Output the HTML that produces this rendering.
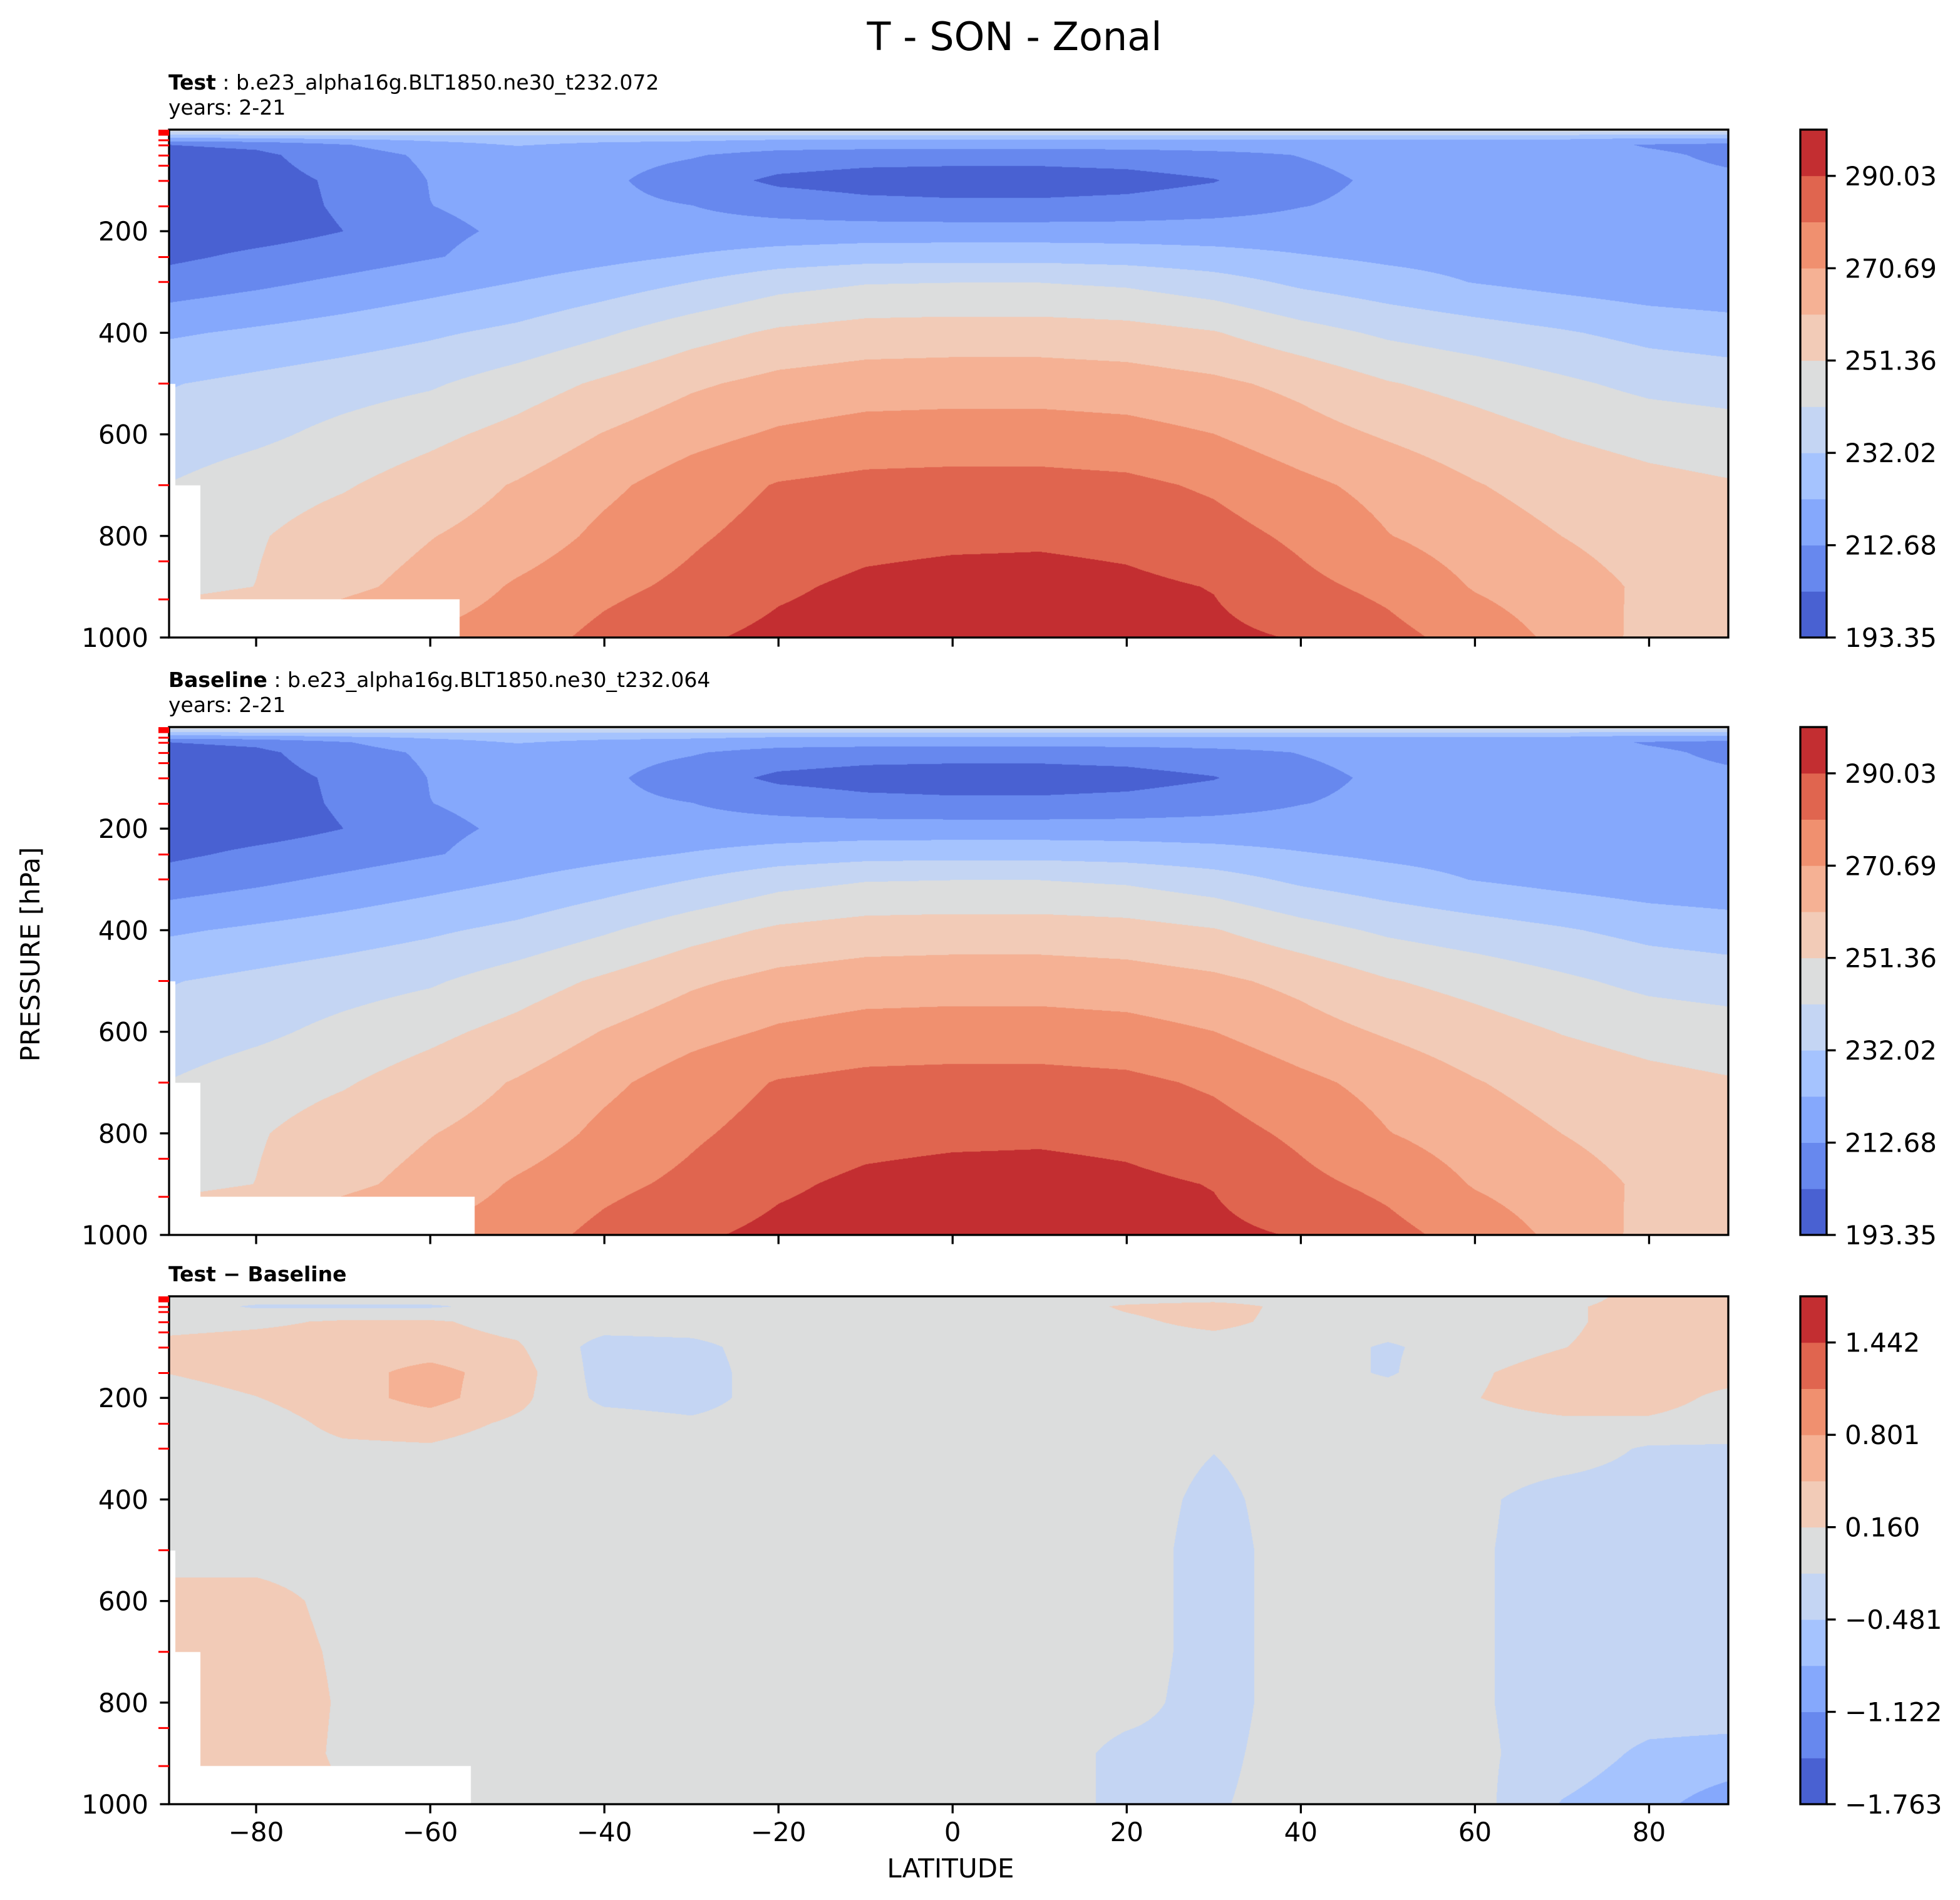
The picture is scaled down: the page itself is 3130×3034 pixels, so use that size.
<!DOCTYPE html>
<html><head><meta charset="utf-8">
<style>
html,body{margin:0;padding:0;background:#fff;}
#fig{position:relative;width:3130px;height:3034px;overflow:hidden;background:#fff;font-family:"DejaVu Sans","Liberation Sans",sans-serif;}
canvas{position:absolute;}
#ov{position:absolute;left:0;top:0;}
</style></head>
<body>
<div id="fig">
<canvas id="c0" width="2490" height="811" style="left:270px;top:207px"></canvas>
<canvas id="c1" width="2490" height="811" style="left:270px;top:1161px"></canvas>
<canvas id="c2" width="2490" height="811" style="left:270px;top:2070px"></canvas>
<svg id="ov" width="3130" height="3034" font-family="DejaVu Sans, Liberation Sans, sans-serif">
  <text x="1620" y="80" font-size="62" text-anchor="middle">T - SON - Zonal</text>
  <text x="269" y="143" font-size="33"><tspan font-weight="bold">Test</tspan> : b.e23_alpha16g.BLT1850.ne30_t232.072</text>
  <text x="269" y="183" font-size="33">years: 2-21</text>
  <text x="269" y="1097" font-size="33"><tspan font-weight="bold">Baseline</tspan> : b.e23_alpha16g.BLT1850.ne30_t232.064</text>
  <text x="269" y="1137" font-size="33">years: 2-21</text>
  <text x="269" y="2046" font-size="33" font-weight="bold">Test − Baseline</text>
  <text x="1518" y="2998" font-size="42" text-anchor="middle">LATITUDE</text>
  <text x="0" y="0" font-size="42" text-anchor="middle" transform="translate(63,1524) rotate(-90)">PRESSURE [hPa]</text>
</svg>
</div>
<script>
// ---------- data ----------
const lats = [-90,-80,-70,-60,-50,-40,-30,-20,-10,0,10,20,30,40,50,60,70,80,90];
const presT = [2,8,15,30,50,100,150,200,250,300,400,500,600,700,800,900,1000];
const testT = [
[244,244,244,244,244,244,244,244,244,244,244,244,244,244,244,244,244,244,244],
[236,236,236,236,236,236,236,236,236,236,236,236,236,236,236,236,236,236,236],
[224,225,226,226,227,227,226,225,225,225,225,225,225,225,225,225,225,224,224],
[203,205,212,219,223,220,219,217,217,217,217,217,217,217,217,217,216,212,210],
[199,201,208,214.5,216.5,216,213.5,209,207,206.5,206.5,207.5,210,213,216,217,216,214,211],
[197,199.5,204.5,213,216,214.5,208,201,199,198.5,198.5,199.5,202.5,210,214.5,216,216,215,214],
[197,199.5,204,212.6,215,215,212.8,209,206,205,205,206,208.5,212.4,215,216,216,215.5,215],
[197,199,203,211,214,215.5,216,216.5,217,217,217,217,217,217,217,217,217,216.5,216],
[201,205,208,212,216,219.5,223,226.5,228.5,229,229,228,226,223,220.5,219,218,217,216],
[207,210.5,214.5,218.5,222.4,227,232,238,241,241.5,241.5,240,236,230,226,222,219,216.5,215],
[221,224,227,230.5,234.5,240.5,247.5,253,255.5,256,256,255,252,245.5,240,236.5,233,229,227],
[231.5,234.5,237.5,240.5,246.5,253,259.5,264,266,266.5,266.5,265.5,263,258.5,252,248,243.5,239,237],
[236,239.5,244.5,249,254.5,261.5,267.5,272,274.5,275,275,274,270.8,265,260,255.5,251,248,246],
[242,247,250.5,256,261.8,268.5,275.5,281,283,283.5,283.5,282.5,279,273,267.5,261.6,257,254,252],
[246,250.5,256,260.7,265,273,279,284,287,288,288.5,287.5,284,278.5,271,266,261,257,256],
[248,251.5,259,264,272,278,282.5,288.5,292,293.5,293.5,292,289.7,282.8,278,270,265,259.5,256],
[262,265,268,272,276.1,283,288.5,292.5,294.5,295.5,295.5,294,292,289.5,283.4,276.6,268.3,258,255]
];
const baseT = [
[244,244,244,244,244,244,244,244,244,244,244,244,244,244,244,244,244,244,244],
[236,236,236,236,236,236,236,236,236,236,236,236,236,236,236,236,236,236,236],
[224,225,226,226,227,227,226,225,225,225,225,225,225,225,225,225,225,224,224],
[203,205,212,219,223,220,219,217,217,217,217,217,217,217,217,217,216,212,210],
[199,201,208,214.5,216.5,216,213.5,209,207,206.5,206.5,207.5,210,213,216,217,216,214,211],
[197,199.5,204.5,213,216,214.5,208,201,199,198.5,198.5,199.5,202.5,210,214.5,216,216,215,214],
[197,199.5,204,212.6,215,215,212.8,209,206,205,205,206,208.5,212.4,215,216,216,215.5,215],
[197,199,203,211,214,215.5,216,216.5,217,217,217,217,217,217,217,217,217,216.5,216],
[201,205,208,212,216,219.5,223,226.5,228.5,229,229,228,226,223,220.5,219,218,217,216],
[207,210.5,214.5,218.5,222.4,227,232,238,241,241.5,241.5,240,236,230,226,222,219,216.5,215],
[221,224,227,230.5,234.5,240.5,247.5,253,255.5,256,256,255,252,245.5,240,236.5,233,229,227],
[231.5,234.5,237.5,240.5,246.5,253,259.5,264,266,266.5,266.5,265.5,263,258.5,252,248,243.5,239,237],
[236,239.5,244.5,249,254.5,261.5,267.5,272,274.5,275,275,274,270.8,265,260,255.5,251,248,246],
[242,247,250.5,256,261.8,268.5,275.5,281,283,283.5,283.5,282.5,279,273,267.5,261.6,257,254,252],
[246,250.5,256,260.7,265,273,279,284,287,288,288.5,287.5,284,278.5,271,266,261,257,256],
[248,251.5,259,264,272,278,282.5,288.5,292,293.5,293.5,292,289.7,282.8,278,270,265,259.5,256],
[262,265,268,272,276.1,283,288.5,292.5,294.5,295.5,295.5,294,292,289.5,283.4,276.6,268.3,258,255]
];
const presD = [2,20,50,100,150,200,250,300,400,500,600,700,800,900,1000];
const diffT = [
[0,0,0,0,0,0,0,0,0,0,0,0,0,0,0,0,0,0.3,0.3],
[0,-0.2,-0.2,-0.2,-0.05,0,0,0,0,0,0,0.2,0.3,0.05,0,0,0.1,0.3,0.3],
[0.05,0.1,0.2,0.2,0.05,0,0,0,0,0,0,0.1,0.25,0.05,0,0,0.1,0.3,0.3],
[0.25,0.3,0.3,0.3,0.2,-0.3,-0.25,0,0,0,0,0,0,0,-0.2,0,0.15,0.3,0.3],
[0.17,0.3,0.35,0.6,0.3,-0.3,-0.3,0,0,0,0,0,0,0,-0.2,0.12,0.3,0.3,0.3],
[0,0.15,0.35,0.6,0.25,-0.25,-0.3,0,0,0,0,0,0,0,0,0.15,0.3,0.3,0.05],
[0,0,0.25,0.3,0.1,0,-0.1,0,0,0,0,0,0,0,0,0.05,0.1,0.1,0],
[0,0,0.1,0.12,0,0,0,0,0,0,0,0,-0.15,0,0,0,0,-0.2,-0.2],
[0,0,0,0,0,0,0,0,0,0,0,0,-0.25,0,0,-0.1,-0.3,-0.3,-0.3],
[0,0,0,0,0,0,0,0,0,0,0,0,-0.3,0,0,-0.12,-0.3,-0.3,-0.3],
[0.3,0.3,0.05,0,0,0,0,0,0,0,0,0,-0.3,0,0,-0.12,-0.3,-0.3,-0.3],
[0.3,0.35,0.1,0,0,0,0,0,0,0,0,0,-0.3,0,0,-0.12,-0.3,-0.3,-0.3],
[0.3,0.4,0.12,0,0,0,0,0,0,0,0,-0.05,-0.3,0,0,-0.12,-0.3,-0.3,-0.3],
[0.3,0.4,0.1,0,0,0,0,0,0,0,0,-0.25,-0.25,0,0,-0.1,-0.3,-0.55,-0.6],
[0.3,0.3,0.2,0.1,0.1,0,0,0,0,0,0,-0.25,-0.2,0,0,-0.05,-0.5,-0.7,-1.0]
];
const maskLat = [-89.3,-86.4];
const maskP = [500,700,925];
const boxLatT = -56.6, boxLatB = -54.9, boxLatD = -55.3;
const tMin = 193.35, tStep = 9.67;
const dMin = -1.763, dStep = 0.3205;
const tTicks = [193.35,212.68,232.02,251.36,270.69,290.03];
const tTickLabels = ["193.35","212.68","232.02","251.36","270.69","290.03"];
const dTicks = [-1.763,-1.122,-0.481,0.160,0.801,1.442];
const dTickLabels = ["−1.763","−1.122","−0.481","0.160","0.801","1.442"];
const xTicks = [-80,-60,-40,-20,0,20,40,60,80];
const xTickLabels = ["−80","−60","−40","−20","0","20","40","60","80"];
const yTicks = [200,400,600,800,1000];
const yTickLabels = ["200","400","600","800","1000"];
const modelLevels = [2,3,5,7,10,21,31,51,71,101,151,251,300,500,700,850,925];

// ---------- geometry ----------
const LAT0 = -90, LAT1 = 89.1;
const X0 = 270, X1 = 2760, PH = 811, W = X1 - X0;
const tops = [207, 1161, 2070];
const COLORS = ['#4961d2','#6788ee','#85a8fc','#a5c3fe','#c4d5f3','#dcdddd','#f2cbb7','#f5b194','#f0906f','#e0654f','#c32e31'];
function xOf(lat){ return X0 + (lat - LAT0) / (LAT1 - LAT0) * W; }
function yOf(top, p){ return top + p / 1000 * PH; }
function hex2rgb(h){ return [parseInt(h.substr(1,2),16),parseInt(h.substr(3,2),16),parseInt(h.substr(5,2),16)]; }
const RGB = COLORS.map(hex2rgb);

function render(id, pres, vals, vmin, step, boxLat){
  const c = document.getElementById(id);
  const ctx = c.getContext('2d');
  const img = ctx.createImageData(W, PH);
  const d = img.data;
  const colLi = [], colLf = [], colLat = [];
  for (let x = 0; x < W; x++){
    const lat = LAT0 + (x + 0.5) / W * (LAT1 - LAT0);
    let li = Math.min(Math.floor((lat + 90) / 10), lats.length - 2);
    colLi.push(li); colLf.push((lat - lats[li]) / (lats[li+1] - lats[li])); colLat.push(lat);
  }
  for (let y = 0; y < PH; y++){
    const p = (y + 0.5) / PH * 1000;
    let pi = 0;
    while (pi < pres.length - 2 && p > pres[pi+1]) pi++;
    let pf = (p - pres[pi]) / (pres[pi+1] - pres[pi]);
    pf = Math.max(0, Math.min(1, pf));
    const r0 = vals[pi], r1 = vals[pi+1];
    for (let x = 0; x < W; x++){
      const lat = colLat[x];
      const o = (y * W + x) * 4;
      let masked = (p > maskP[2] && lat < boxLat) || (p > maskP[1] && lat < maskLat[1]) || (p > maskP[0] && lat < maskLat[0]);
      if (masked){ d[o]=255; d[o+1]=255; d[o+2]=255; d[o+3]=255; continue; }
      const li = colLi[x], lf = colLf[x];
      const a = r0[li] + (r0[li+1] - r0[li]) * lf;
      const b = r1[li] + (r1[li+1] - r1[li]) * lf;
      const v = a + (b - a) * pf;
      let k = Math.floor((v - vmin) / step);
      if (k < 0) k = 0; if (k > 10) k = 10;
      const col = RGB[k];
      d[o]=col[0]; d[o+1]=col[1]; d[o+2]=col[2]; d[o+3]=255;
    }
  }
  ctx.putImageData(img, 0, 0);
}
render('c0', presT, testT, tMin, tStep, boxLatT);
render('c1', presT, baseT, tMin, tStep, boxLatB);
render('c2', presD, diffT, dMin, dStep, boxLatD);

// ---------- overlay ----------
const NS = 'http://www.w3.org/2000/svg';
const ov = document.getElementById('ov');
function mk(tag, attrs){ const e = document.createElementNS(NS, tag); for (const k in attrs) e.setAttribute(k, attrs[k]); ov.appendChild(e); return e; }
const LW = 3.3, TL = 14.6;
const cbX0 = 2875, cbX1 = 2917;

tops.forEach((top, pi) => {
  const fr = mk('rect', {x: X0, y: top, width: W, height: PH, fill: 'none', stroke: '#000', 'stroke-width': LW});
  
  
  modelLevels.forEach(lv => {
    const t = mk('line', {x1: X0 - 17, x2: X0, y1: yOf(top, lv), y2: yOf(top, lv), stroke: '#ff0000', 'stroke-width': 3});
    
    
  });
  yTicks.forEach((pv, i) => {
    const yy = yOf(top, pv);
    const t = mk('line', {x1: X0 - TL, x2: X0, y1: yy, y2: yy, stroke: '#000', 'stroke-width': LW});
    
    
    const lb = mk('text', {x: 237, y: yy + 15, 'font-size': 42, 'text-anchor': 'end'});
    lb.textContent = yTickLabels[i];
    
    
  });
  xTicks.forEach((lv, i) => {
    const xx = xOf(lv);
    const t = mk('line', {x1: xx, x2: xx, y1: top + PH, y2: top + PH + TL, stroke: '#000', 'stroke-width': LW});
    
    
    if (pi === 2){
      const lb = mk('text', {x: xx, y: 2940, 'font-size': 42, 'text-anchor': 'middle'});
      lb.textContent = xTickLabels[i];
      
      
    }
  });
  const isDiff = pi === 2;
  const vmin = isDiff ? dMin : tMin, step = isDiff ? dStep : tStep;
  const ticks = isDiff ? dTicks : tTicks, labels = isDiff ? dTickLabels : tTickLabels;
  for (let k = 0; k < 11; k++){
    const r = mk('rect', {x: cbX0, y: top + PH - (k + 1) * PH / 11, width: cbX1 - cbX0, height: PH / 11 + 0.5, fill: COLORS[k]});
    
    
  }
  const cbf = mk('rect', {x: cbX0, y: top, width: cbX1 - cbX0, height: PH, fill: 'none', stroke: '#000', 'stroke-width': LW});
  
  
  ticks.forEach((tv, i) => {
    const yy = top + PH - (tv - vmin) / (11 * step) * PH;
    const t = mk('line', {x1: cbX1, x2: cbX1 + TL, y1: yy, y2: yy, stroke: '#000', 'stroke-width': LW});
    
    
    const lb = mk('text', {x: 2946, y: yy + 15, 'font-size': 42});
    lb.textContent = labels[i];
    
    
  });
});
</script>
</body></html>
